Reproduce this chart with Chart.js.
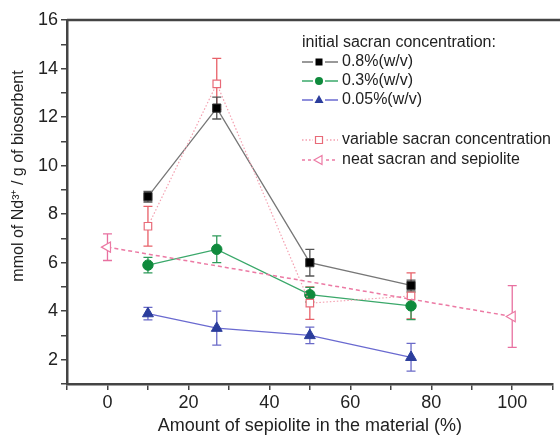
<!DOCTYPE html>
<html>
<head>
<meta charset="utf-8">
<script src="https://cdn.jsdelivr.net/npm/chart.js@4/dist/chart.umd.min.js"></script>
<style>
  html, body { margin: 0; padding: 0; background: #fff; }
  #wrap { width: 560px; height: 437px; }
</style>
</head>
<body>
<div id="wrap"><canvas id="chart"></canvas></div>
<script>
// Sepiolite content (%) for the sacran/sepiolite materials
const sepiolite = [10, 27, 50, 75];
const conc08 = [8.72, 12.37, 6.0, 5.06];
const conc08Err = [0.22, 0.45, 0.55, 0.22];
const conc03 = [5.9, 6.55, 4.68, 4.22];
const conc03Err = [0.32, 0.55, 0.3, 0.57];
const conc005 = [3.9, 3.3, 3.0, 2.1];
const conc005Err = [0.26, 0.7, 0.34, 0.57];
const variableConc = [7.5, 13.37, 4.33, 4.63];
const variableErr = [0.82, 1.05, 0.67, 0.95];
// neat sacran (0 %) and neat sepiolite (100 %)
const neatX = [0, 100];
const neatY = [6.64, 3.78];
const neatErr = [0.55, 1.27];

const xLabels = [0, 20, 40, 60, 80, 100];
const yLabels = [2, 4, 6, 8, 10, 12, 14, 16];

const toPoints = (xs, ys) => xs.map((x, i) => ({ x: x, y: ys[i] }));

const FONT = 'Liberation Sans, Arial, sans-serif';

// draws the error bars from the errors array of each dataset
const errorBars = {
    id: 'errorBars',
    beforeDatasetsDraw(chart) {
        const ctx = chart.ctx;
        const yScale = chart.scales.y;
        chart.data.datasets.forEach((ds, di) => {
            const meta = chart.getDatasetMeta(di);
            ctx.save();
            ctx.strokeStyle = ds.errorColor;
            ctx.lineWidth = 1.3;
            meta.data.forEach((pt, i) => {
                const v = ds.data[i].y;
                const e = ds.errors[i];
                const top = yScale.getPixelForValue(v + e);
                const bot = yScale.getPixelForValue(v - e);
                ctx.beginPath();
                ctx.moveTo(pt.x, top);
                ctx.lineTo(pt.x, bot);
                ctx.moveTo(pt.x - 4.5, top);
                ctx.lineTo(pt.x + 4.5, top);
                ctx.moveTo(pt.x - 4.5, bot);
                ctx.lineTo(pt.x + 4.5, bot);
                ctx.stroke();
            });
            ctx.restore();
        });
    }
};

function marker(ctx, style, x, y, fill, stroke) {
    ctx.beginPath();
    if (style === 'rect') {
        ctx.rect(x - 3.5, y - 3.5, 7, 7);
    } else if (style === 'circle') {
        ctx.arc(x, y, 4, 0, Math.PI * 2);
    } else if (style === 'triangle') {
        ctx.moveTo(x, y - 5);
        ctx.lineTo(x + 4.5, y + 3);
        ctx.lineTo(x - 4.5, y + 3);
        ctx.closePath();
    } else if (style === 'left') {
        ctx.moveTo(x - 5, y);
        ctx.lineTo(x + 3, y - 4.5);
        ctx.lineTo(x + 3, y + 4.5);
        ctx.closePath();
    }
    if (fill) { ctx.fillStyle = fill; ctx.fill(); }
    if (stroke) { ctx.strokeStyle = stroke; ctx.lineWidth = 1.2; ctx.stroke(); }
}

// frame line on top, y title and the grouped legend
const extras = {
    id: 'extras',
    afterDraw(chart) {
        const ctx = chart.ctx;
        const area = chart.chartArea;
        ctx.save();
        ctx.strokeStyle = '#444';
        ctx.lineWidth = 2.5;
        ctx.beginPath();
        ctx.moveTo(area.left, area.top);
        ctx.lineTo(chart.width, area.top);
        ctx.stroke();

        // y axis title
        ctx.save();
        ctx.translate(19, 176);
        ctx.rotate(-Math.PI / 2);
        ctx.fillStyle = '#222';
        ctx.font = '16px ' + FONT;
        ctx.textAlign = 'center';
        ctx.textBaseline = 'middle';
        ctx.fillText('mmol of Nd\u00b3\u207a / g of biosorbent', 0, 0);
        ctx.restore();

        // legend
        ctx.font = '16px ' + FONT;
        ctx.fillStyle = '#222';
        ctx.textBaseline = 'middle';
        ctx.fillText('initial sacran concentration:', 302, 43);
        const rows = [
            { label: '0.8%(w/v)', y: 62, line: '#777', dash: [], style: 'rect', fill: '#000', stroke: null },
            { label: '0.3%(w/v)', y: 81, line: '#3aa86a', dash: [], style: 'circle', fill: '#0f8a3c', stroke: null },
            { label: '0.05%(w/v)', y: 100, line: '#6a6ad0', dash: [], style: 'triangle', fill: '#2b3d9c', stroke: null },
            { label: 'variable sacran concentration', y: 140, line: '#f4a0b0', dash: [1.5, 2], style: 'rect', fill: '#fff', stroke: '#e86a78' },
            { label: 'neat sacran and sepiolite', y: 160, line: '#ec7aa4', dash: [3, 3], style: 'left', fill: '#fff', stroke: '#ec7aa4' }
        ];
        rows.forEach(r => {
            ctx.save();
            ctx.strokeStyle = r.line;
            ctx.lineWidth = 1.3;
            ctx.setLineDash(r.dash);
            ctx.beginPath();
            ctx.moveTo(302, r.y);
            ctx.lineTo(338, r.y);
            ctx.stroke();
            ctx.restore();
            ctx.save();
            ctx.fillStyle = '#fff';
            ctx.fillRect(313, r.y - 6, 12, 12);
            ctx.restore();
            marker(ctx, r.style, 319, r.y, r.fill, r.stroke);
            ctx.fillStyle = '#222';
            ctx.fillText(r.label, 342, r.y);
        });
        ctx.restore();
    }
};

new Chart(document.getElementById('chart'), {
    type: 'line',
    data: {
        datasets: [
            {
                label: 'neat sacran and sepiolite',
                data: toPoints(neatX, neatY),
                errors: neatErr,
                errorColor: '#e870a0',
                borderColor: '#ec7aa4',
                borderWidth: 1.5,
                borderDash: [4, 3],
                pointStyle: 'triangle',
                rotation: -90,
                pointRadius: 6,
                pointBackgroundColor: '#fff',
                pointBorderColor: '#ec7aa4',
                pointBorderWidth: 1.2
            },
            {
                label: 'variable sacran concentration',
                data: toPoints(sepiolite, variableConc),
                errors: variableErr,
                errorColor: '#e86068',
                borderColor: '#f4a0b0',
                borderWidth: 1.2,
                borderDash: [1.5, 2],
                tension: 0,
                pointStyle: 'rect',
                pointRadius: 5.3,
                pointBackgroundColor: '#fff',
                pointBorderColor: '#e86a78',
                pointBorderWidth: 1.2
            },
            {
                label: '0.05%(w/v)',
                data: toPoints(sepiolite, conc005),
                errors: conc005Err,
                errorColor: '#6a6ac8',
                borderColor: '#6a6ad0',
                borderWidth: 1.3,
                pointStyle: 'triangle',
                pointRadius: 6.3,
                pointBackgroundColor: '#2b3d9c',
                pointBorderColor: '#2b3d9c',
                pointBorderWidth: 1
            },
            {
                label: '0.3%(w/v)',
                data: toPoints(sepiolite, conc03),
                errors: conc03Err,
                errorColor: '#2e9a5a',
                borderColor: '#3aa86a',
                borderWidth: 1.3,
                pointStyle: 'circle',
                pointRadius: 5.2,
                pointBackgroundColor: '#0f8a3c',
                pointBorderColor: '#0f8a3c',
                pointBorderWidth: 1
            },
            {
                label: '0.8%(w/v)',
                data: toPoints(sepiolite, conc08),
                errors: conc08Err,
                errorColor: '#555',
                borderColor: '#777',
                borderWidth: 1.3,
                pointStyle: 'rect',
                pointRadius: 5.8,
                pointBackgroundColor: '#000',
                pointBorderColor: '#333',
                pointBorderWidth: 1
            }
        ]
    },
    options: {
        responsive: true,
        maintainAspectRatio: false,
        animation: false,
        layout: { padding: { top: 20, right: 0, left: 0, bottom: 0 } },
        plugins: {
            legend: { display: false },
            tooltip: { enabled: false }
        },
        scales: {
            x: {
                type: 'linear',
                min: -10,
                max: 110,
                afterFit: scale => { scale.height = 53; },
                border: { display: true, color: '#444', width: 2.5 },
                grid: { drawOnChartArea: false, drawTicks: true, tickLength: 6, color: '#444', lineWidth: 1.5 },
                ticks: {
                    stepSize: 10,
                    color: '#222',
                    font: { size: 18, family: FONT },
                    padding: 2,
                    maxRotation: 0,
                    autoSkip: false,
                    callback: v => xLabels.includes(v) ? String(v) : ''
                },
                title: {
                    display: true,
                    text: 'Amount of sepiolite in the material (%)',
                    color: '#222',
                    font: { size: 18, family: FONT },
                    padding: { top: 2, bottom: 0 }
                }
            },
            y: {
                min: 1,
                max: 16,
                afterFit: scale => { scale.width = 67; },
                border: { display: true, color: '#444', width: 2.5 },
                grid: { drawOnChartArea: false, drawTicks: true, tickLength: 6, color: '#444', lineWidth: 1.5 },
                ticks: {
                    stepSize: 1,
                    color: '#222',
                    font: { size: 18, family: FONT },
                    padding: 3,
                    autoSkip: false,
                    callback: v => yLabels.includes(v) ? String(v) : ''
                }
            }
        }
    },
    plugins: [errorBars, extras]
});
</script>
</body>
</html>
